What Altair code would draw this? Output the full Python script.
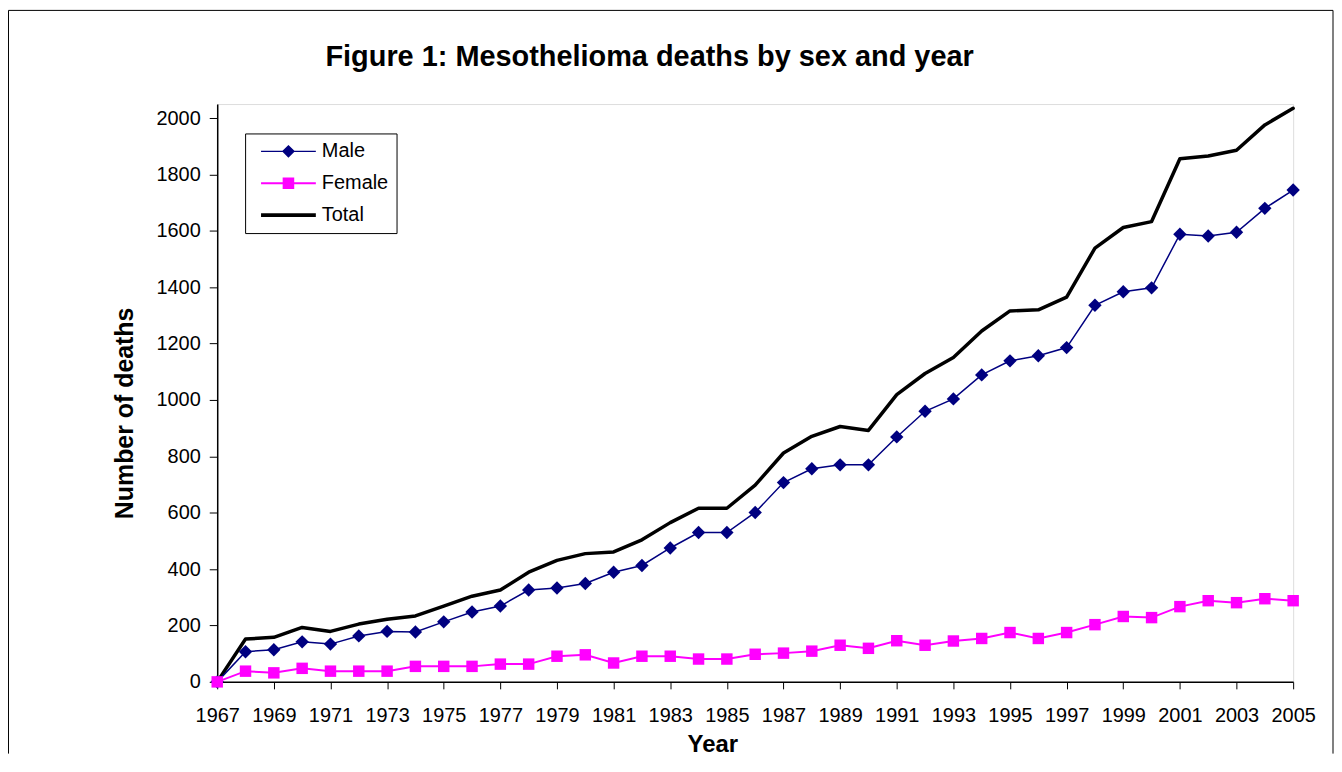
import altair as alt
import pandas as pd

years = list(range(1967, 2006))

male = [0, 107, 114, 142, 134, 163, 179, 177, 213, 248, 269, 326, 333, 349,
        389, 413, 475, 530, 530, 601, 707, 756, 770, 770, 869, 960, 1004,
        1089, 1139, 1157, 1186, 1336, 1384, 1398, 1588, 1582, 1595, 1680, 1745]

female = [0, 38, 32, 48, 38, 38, 38, 55, 55, 55, 63, 63, 91, 96,
          67, 91, 91, 81, 81, 98, 102, 109, 130, 119, 146, 130, 145,
          154, 175, 154, 175, 203, 232, 228, 267, 288, 281, 295, 288]

total = [0, 152, 158, 193, 179, 205, 222, 234, 269, 304, 326, 389, 431, 455,
         461, 504, 565, 616, 616, 698, 812, 871, 906, 892, 1019, 1094, 1151,
         1245, 1316, 1320, 1365, 1539, 1612, 1633, 1856, 1866, 1886, 1976, 2035]

series_names = ["Male", "Female", "Total"]
series_colors = ["#000080", "#FF00FF", "#000000"]
x_tick_values = list(range(1967, 2006, 2))
y_tick_values = list(range(0, 2001, 200))

title_text = "Figure 1: Mesothelioma deaths by sex and year"

rows = []
for name, vals in zip(series_names, [male, female, total]):
    for yr, v in zip(years, vals):
        rows.append({"year": yr, "deaths": v, "series": name})
df = pd.DataFrame(rows)

FONT = "Liberation Sans"

# legend symbols: line + marker drawn as filled paths (unit = 10 px at symbolSize 400)
legend_paths = [
    "M-2.75,-0.075H2.75V0.075H-2.75Z M0,-0.65L0.65,0L0,0.65L-0.65,0Z",
    "M-2.75,-0.1H2.75V0.1H-2.75Z M-0.58,-0.58H0.58V0.58H-0.58Z",
    "M-2.75,-0.18H2.75V0.18H-2.75Z",
]

x_enc = alt.X(
    "year:Q",
    scale=alt.Scale(domain=[1967, 2005], nice=False, zero=False),
    axis=alt.Axis(
        values=x_tick_values, format="d", title="Year",
        labelFontSize=20, labelFont=FONT, labelColor="black",
        labelPadding=17, tickSize=7, tickColor="black",
        domainColor="black", domainWidth=1.5, grid=False,
        titleFont=FONT, titleFontSize=24, titleFontWeight="bold",
        titleColor="black", titleX=497, titleY=70,
        titleBaseline="alphabetic", titleAlign="center",
        labelFlush=False, labelOverlap=False,
    ),
)
y_enc = alt.Y(
    "deaths:Q",
    scale=alt.Scale(domain=[0, 2050], nice=False),
    axis=alt.Axis(
        values=y_tick_values, format="d", title="Number of deaths",
        labelFontSize=20, labelFont=FONT, labelColor="black",
        labelPadding=9, tickSize=8, tickColor="black",
        domainColor="black", domainWidth=1.5, grid=False,
        titleFont=FONT, titleFontSize=25, titleFontWeight="bold",
        titleColor="black", titleX=-85, titleY=310, titleAngle=270,
        titleBaseline="alphabetic", titleAlign="center",
        labelFlush=False, labelOverlap=False,
    ),
)

base = alt.Chart(df).encode(x=x_enc, y=y_enc)

total_line = base.transform_filter(alt.datum.series == "Total").mark_line(
    color="#000000", strokeWidth=3.5, strokeJoin="round", strokeCap="round"
)
male_line = base.transform_filter(alt.datum.series == "Male").mark_line(
    color="#000080", strokeWidth=1.5
)
male_pts = base.transform_filter(alt.datum.series == "Male").mark_point(
    shape="diamond", filled=True, color="#000080", size=180, opacity=1
)
female_line = base.transform_filter(alt.datum.series == "Female").mark_line(
    color="#FF00FF", strokeWidth=2
)
female_pts = base.transform_filter(alt.datum.series == "Female").mark_point(
    shape="square", filled=True, color="#FF00FF", size=132, opacity=1
)

legend_def = alt.Legend(
    title=None, orient="none", legendX=28, legendY=29.5,
    strokeColor="black", fillColor="white", padding=8,
    symbolSize=400, symbolOpacity=1, symbolStrokeWidth=0,
    symbolOffset=25.5, labelOffset=23.5, rowPadding=12,
    labelFont=FONT, labelFontSize=20, labelColor="black",
    labelBaseline="middle",
)
legend_layer = base.mark_point(filled=True, opacity=0).encode(
    color=alt.Color("series:N",
                    scale=alt.Scale(domain=series_names, range=series_colors),
                    legend=legend_def),
    shape=alt.Shape("series:N",
                    scale=alt.Scale(domain=series_names, range=legend_paths),
                    legend=legend_def),
)

one = pd.DataFrame({"k": [0]})
frame_left = alt.Chart(one).mark_rule(color="black", strokeWidth=1).encode(
    x=alt.value(-209.5), y=alt.value(-94), y2=alt.value(652))
frame_top = alt.Chart(one).mark_rule(color="black", strokeWidth=1).encode(
    x=alt.value(-209.5), x2=alt.value(1120), y=alt.value(-94))
frame_right = alt.Chart(one).mark_rule(color="black", strokeWidth=1).encode(
    x=alt.value(1120), y=alt.value(-94), y2=alt.value(652))

title_mark = alt.Chart(one).mark_text(
    text=title_text, font=FONT, fontSize=29, fontWeight="bold",
    color="black", align="center", baseline="alphabetic"
).encode(x=alt.value(434), y=alt.value(-38))

chart = alt.layer(
    frame_left, frame_top, frame_right, title_mark,
    total_line, male_line, male_pts, female_line, female_pts, legend_layer,
).properties(
    width=1080, height=580, padding=0, background="white"
).configure_view(
    stroke="#999999", strokeWidth=1.5
).configure(font=FONT)

chart.save("out.html", embed_options={"renderer": "svg", "actions": False})
